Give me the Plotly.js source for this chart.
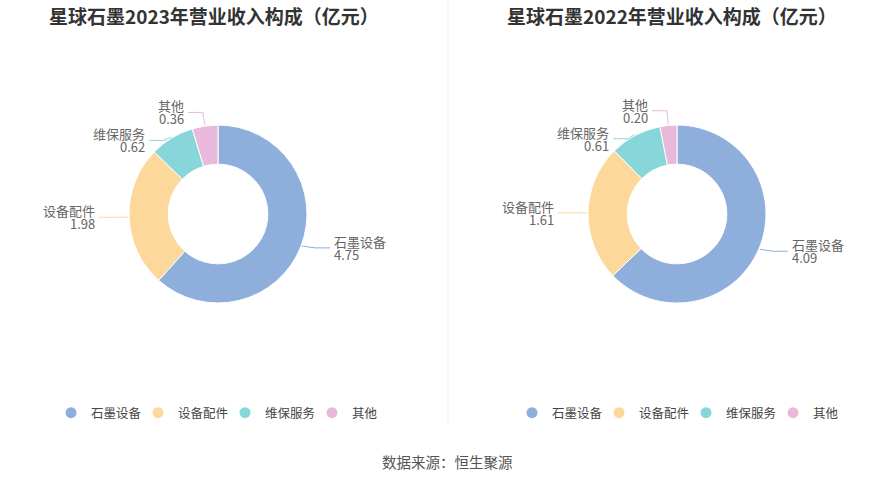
<!DOCTYPE html>
<html>
<head>
<meta charset="utf-8">
<script src="https://cdn.plot.ly/plotly-3.0.1.min.js"></script>
<style>
  html, body { margin: 0; padding: 0; background: #fff; }
  #chart { width: 893px; height: 481px; }
</style>
</head>
<body>
<div id="chart"></div>
<script>
// data
const categories = ['石墨设备', '设备配件', '维保服务', '其他'];
const revenue2023 = [4.75, 1.98, 0.62, 0.36];
const revenue2022 = [4.09, 1.61, 0.61, 0.20];
const titles = ['星球石墨2023年营业收入构成（亿元）', '星球石墨2022年营业收入构成（亿元）'];
const source = '数据来源：恒生聚源';

const colors = ['#8eaedb', '#fdd89b', '#87d6d9', '#e8b9da'];
const FONT = '"Noto Sans CJK SC", "Noto Sans", sans-serif';
const W = 893, H = 481, R = 89;

// pixel -> paper
const px = x => x / W;
const py = y => 1 - y / H;

const charts = [
  { title: titles[0], values: revenue2023, cx: 218, cy: 214, titleX: 214, legend: 'legend', legendX: 225 },
  { title: titles[1], values: revenue2022, cx: 677, cy: 214, titleX: 672, legend: 'legend2', legendX: 686 }
];

// label line positions follow the slice angles
function labelPositions(c) {
  const total = c.values.reduce((a, b) => a + b, 0);
  let cum = 0;
  const items = c.values.map((v, i) => {
    const a = (cum + v / 2) / total * 2 * Math.PI;
    cum += v;
    const s = Math.sin(a), co = Math.cos(a);
    return {
      i: i, v: v, right: s >= 0,
      x0: c.cx + (R + 1) * s, y0: c.cy - (R + 1) * co,
      x1: c.cx + (R + 15) * s, y1: c.cy - (R + 6) * co
    };
  });
  // push apart labels that sit too close on the same side
  [true, false].forEach(side => {
    const grp = items.filter(d => d.right === side).sort((a, b) => a.y1 - b.y1);
    for (let k = 1; k < grp.length; k++) {
      if (grp[k].y1 - grp[k - 1].y1 < 28) {
        const m = (grp[k].y1 + grp[k - 1].y1) / 2;
        grp[k - 1].y1 = m - 14;
        grp[k].y1 = m + 14;
      }
    }
  });
  items.forEach(d => { d.x2 = d.x1 + (d.right ? 15 : -15); });
  return items;
}

const traces = [];
const shapes = [];
const annotations = [];
const layout = {
  width: W, height: H,
  margin: { l: 0, r: 0, t: 0, b: 0 },
  paper_bgcolor: '#fff',
  plot_bgcolor: '#fff',
  font: { family: FONT, color: '#444' },
  xaxis: { visible: false },
  yaxis: { visible: false },
  shapes: shapes,
  annotations: annotations
};

charts.forEach(c => {
  traces.push({
    type: 'pie',
    labels: categories,
    values: c.values,
    marker: { colors: colors, line: { color: '#fff', width: 1 } },
    hole: 0.56,
    sort: false,
    direction: 'clockwise',
    rotation: 0,
    textinfo: 'none',
    showlegend: false,
    domain: { x: [px(c.cx - R), px(c.cx + R)], y: [py(c.cy + R), py(c.cy - R)] }
  });

  // legend entries with round markers
  categories.forEach((name, i) => {
    traces.push({
      type: 'scatter', mode: 'markers',
      x: [null], y: [null],
      name: name,
      legend: c.legend,
      marker: { color: colors[i], size: 11, symbol: 'circle' },
      hoverinfo: 'skip'
    });
  });
  layout[c.legend] = {
    orientation: 'h',
    x: px(c.legendX), xanchor: 'center',
    y: py(413), yanchor: 'middle',
    entrywidth: 42, entrywidthmode: 'pixels',
    font: { family: FONT, size: 12.5, color: '#444' },
    bgcolor: 'rgba(0,0,0,0)'
  };

  annotations.push({
    xref: 'paper', yref: 'paper',
    x: px(c.titleX), y: py(15), xanchor: 'center', yanchor: 'middle',
    text: c.title, showarrow: false,
    font: { family: FONT, size: 19, color: '#333', weight: 'bold' }
  });

  labelPositions(c).forEach(d => {
    shapes.push({
      type: 'path', xref: 'paper', yref: 'paper',
      path: 'M' + px(d.x0) + ',' + py(d.y0) + ' L' + px(d.x1) + ',' + py(d.y1) + ' L' + px(d.x2) + ',' + py(d.y1),
      line: { color: colors[d.i], width: 1 }
    });
    // name on top, value below, tight like the original
    [[categories[d.i], -6.5], [d.v.toFixed(2), 6.5]].forEach(([txt, dy]) => {
      annotations.push({
        xref: 'paper', yref: 'paper',
        x: px(d.x2 + (d.right ? 3 : -3)), y: py(d.y1 + dy),
        xanchor: d.right ? 'left' : 'right', yanchor: 'middle',
        text: txt, showarrow: false, borderpad: 0,
        font: { family: FONT, size: 13, color: '#666' }
      });
    });
  });
});

// divider between the two charts
shapes.push({
  type: 'line', xref: 'paper', yref: 'paper',
  x0: px(448), x1: px(448), y0: py(0), y1: py(425),
  line: { color: '#eeeeee', width: 1 }
});

annotations.push({
  xref: 'paper', yref: 'paper',
  x: px(447), y: py(461), xanchor: 'center', yanchor: 'middle',
  text: source, showarrow: false,
  font: { family: FONT, size: 14.5, color: '#555' }
});

Plotly.newPlot('chart', traces, layout, { displayModeBar: false });
</script>
</body>
</html>
